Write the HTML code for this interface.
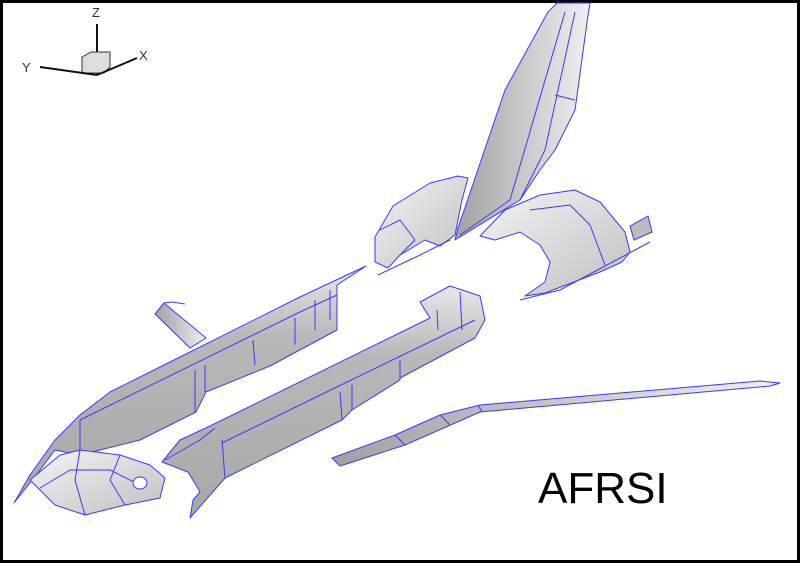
<!DOCTYPE html>
<html><head><style>
html,body{margin:0;padding:0;background:#fff}
svg{display:block}
</style></head><body>
<svg width="800" height="563" viewBox="0 0 800 563" xmlns="http://www.w3.org/2000/svg">
<defs>
<linearGradient id="g1" x1="0" y1="0" x2="0" y2="1"><stop offset="0" stop-color="#e8e8e8"/><stop offset="0.3" stop-color="#b8b8b8"/><stop offset="1" stop-color="#a8a8a8"/></linearGradient>
<linearGradient id="g2" x1="0" y1="0" x2="1" y2="0"><stop offset="0" stop-color="#a0a0a0"/><stop offset="0.5" stop-color="#c8c8c8"/><stop offset="1" stop-color="#f0f0f0"/></linearGradient>
<linearGradient id="g3" x1="0" y1="0" x2="1" y2="1"><stop offset="0" stop-color="#f4f4f4"/><stop offset="1" stop-color="#c0c0c0"/></linearGradient>
</defs>
<rect x="0" y="0" width="800" height="563" fill="#fff" stroke="#000" stroke-width="6"/>
<!-- axis -->
<g font-family="Liberation Sans, sans-serif" font-size="13" fill="#333">
<text x="92" y="17">Z</text><text x="22" y="72">Y</text><text x="139" y="60">X</text>
</g>
<line x1="97" y1="24" x2="97" y2="75" stroke="#111" stroke-width="2"/>
<polygon points="82,57 91,52 110,52 110,67 104,73 82,73" fill="#ddd" stroke="#333"/>
<line x1="40" y1="67" x2="97" y2="75" stroke="#111" stroke-width="2"/>
<line x1="97" y1="75" x2="137" y2="58" stroke="#111" stroke-width="2"/>
<g stroke="#3a3aff" stroke-width="1" stroke-linejoin="round">
<!-- vertical small fin -->
<polygon points="155,314 164,303 206,338 190,348" fill="url(#g2)"/>
<polyline points="164,303 172,302 185,304" fill="none"/>
<!-- left fuselage -->
<polygon points="14,503 30,475 55,440 80,415 110,392 170,362 300,297 366,266 337,285 337,330 270,366 206,392 196,412 140,440 80,455 55,450 40,470" fill="url(#g1)"/>
<polyline points="80,420 80,455" fill="none"/><polyline points="80,420 300,312 337,295" fill="none"/>
<polyline points="195,370 195,412" fill="none"/><polyline points="205,365 205,392" fill="none"/>
<polyline points="253,340 255,365" fill="none"/><polyline points="295,318 295,345" fill="none"/>
<polyline points="315,300 315,330" fill="none"/><polyline points="330,290 330,320" fill="none"/>
<!-- nose cap light -->
<polygon points="30,480 60,455 80,450 120,455 150,465 165,478 160,498 125,505 85,515 55,505 40,490" fill="url(#g3)"/>
<polyline points="40,488 70,470 110,470 140,485" fill="none"/><polyline points="80,450 75,480 85,515" fill="none"/>
<polyline points="120,455 110,480 125,505" fill="none"/>
<ellipse cx="140" cy="483" rx="7" ry="6" fill="#fff"/>
<!-- right fuselage -->
<polygon points="162,462 180,440 210,426 430,318 420,302 450,286 480,296 485,320 475,338 400,378 400,380 352,410 342,420 225,478 190,518 193,500 200,492 188,472" fill="url(#g1)"/>
<polyline points="222,440 225,478" fill="none"/><polyline points="222,443 345,383 475,320" fill="none"/>
<polyline points="340,392 342,420" fill="none"/><polyline points="352,385 352,410" fill="none"/>
<polyline points="400,360 400,380" fill="none"/><polyline points="437,310 438,330" fill="none"/>
<polyline points="460,292 462,330" fill="none"/><polyline points="165,460 200,440 215,428" fill="none"/>
<!-- wing strip -->
<polygon points="332,458 340,466 405,445 480,412 770,386 780,383 760,381 480,405 440,415 395,435" fill="url(#g2)"/>
<polyline points="395,435 405,445" fill="none"/><polyline points="440,415 450,425" fill="none"/><polyline points="478,405 482,412" fill="none"/>
<!-- tail fin -->
<polygon points="557,3 590,3 588,15 575,110 555,150 540,170 520,200 455,240 458,228 505,90 548,12" fill="url(#g2)"/>
<polyline points="575,12 545,150 520,200" fill="none"/><polyline points="565,12 510,200 460,235" fill="none"/>
<polyline points="555,95 575,100" fill="none"/>
<!-- left OMS pod -->
<polygon points="375,237 393,206 430,183 458,176 468,178 462,200 455,235 440,246 425,240 400,255 388,268 375,262" fill="url(#g3)"/>
<polyline points="380,230 400,220 415,240 400,255" fill="none"/>
<polyline points="378,275 420,255 450,240" fill="none"/>
<!-- right OMS pod -->
<polygon points="480,236 505,210 540,195 575,190 600,202 625,232 630,252 622,262 600,272 545,293 525,296 545,282 550,262 540,245 520,232 495,240" fill="url(#g3)"/>
<polyline points="530,210 570,205 590,225 605,265" fill="none"/>
<polygon points="630,226 648,216 652,232 634,240" fill="#bbb"/>
<polyline points="520,300 560,290 650,242" fill="none"/>
</g>
<text x="538" y="503" font-family="Liberation Sans, sans-serif" font-size="44" fill="#000">AFRSI</text>
</svg>
</body></html>
